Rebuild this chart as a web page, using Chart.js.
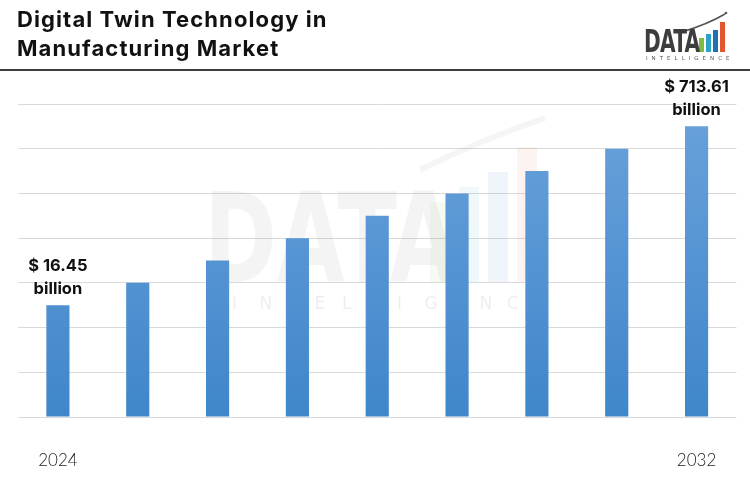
<!DOCTYPE html>
<html><head><meta charset="utf-8">
<script src="https://cdn.jsdelivr.net/npm/chart.js@4"></script>
<style>
html,body{margin:0;padding:0;background:#fff;}
#wrap{position:relative;width:750px;height:500px;overflow:hidden;background:#fff;}
#title{position:absolute;left:17px;top:5px;font-family:Inter,'Open Sans',sans-serif;font-weight:700;font-size:22px;line-height:29px;color:#111;letter-spacing:1.1px;}
#rule{position:absolute;left:0;top:69px;width:750px;height:2px;background:#3c3c3c;}
#chart{position:absolute;left:0;top:0;}
#logo{position:absolute;left:640px;top:8px;width:100px;height:60px;}
#logo .word{position:absolute;left:4px;top:17px;font-family:'DejaVu Sans Condensed','Liberation Sans Narrow',sans-serif;font-weight:700;font-size:32px;line-height:32px;color:#3d3d3d;transform:scaleX(0.7);transform-origin:left top;letter-spacing:-1px;}
#logo .bar{position:absolute;width:5px;}
#logo .sub{position:absolute;left:6px;top:47px;font-family:'DejaVu Sans',sans-serif;font-size:5.5px;letter-spacing:4px;color:#555;}
</style></head>
<body>
<div id="wrap">
  <canvas id="chart" width="750" height="500"></canvas>
  <div id="title">Digital Twin Technology in<br>Manufacturing Market</div>
  <div id="rule"></div>
  <div id="logo">
    <div class="bar" style="left:59px;top:30px;height:14px;background:#7dbb42;"></div>
    <div class="bar" style="left:66px;top:26px;height:18px;background:#2aa3c9;"></div>
    <div class="bar" style="left:73px;top:22px;height:22px;background:#1f6fb5;"></div>
    <div class="bar" style="left:80px;top:14px;height:30px;background:#e4572e;"></div>
    <svg style="position:absolute;left:40px;top:0;" width="50" height="30"><path d="M2 24 Q 28 16 45 6" stroke="#555" stroke-width="1.6" fill="none"/><circle cx="46" cy="5" r="1.3" fill="#555"/></svg>
    <div class="word">DATA</div>
    <div class="sub">INTELLIGENCE</div>
  </div>
</div>
<script>
const years = ['2024','2025','2026','2027','2028','2029','2030','2031','2032'];
const marketSize = [2.5, 3.0, 3.5, 4.0, 4.5, 5.0, 5.5, 6.0, 6.5];
const valueLabels = ['$ 16.45', null, null, null, null, null, null, null, '$ 713.61'];
const unitLabel = 'billion';
const shownYears = ['2024', '2032'];
const gridSteps = [0, 7, 1];

const watermark = {
  id: 'watermark',
  beforeDatasetsDraw(chart) {
    const ctx = chart.ctx;
    ctx.save();
    ctx.fillStyle = 'rgba(0,0,0,0.045)';
    ctx.font = 'bold 125px "DejaVu Sans Condensed", sans-serif';
    ctx.textBaseline = 'alphabetic';
    ctx.save();
    ctx.translate(204, 282);
    ctx.scale(0.78, 1);
    ctx.fillText('DATA', 0, 0);
    ctx.restore();
    const cols = ['rgba(125,187,66,0.07)','rgba(42,155,213,0.07)','rgba(31,111,181,0.07)','rgba(228,87,46,0.07)'];
    const hs = [80, 95, 110, 135];
    for (let i = 0; i < 4; i++) {
      ctx.fillStyle = cols[i];
      ctx.fillRect(430 + i * 29, 282 - hs[i], 20, hs[i]);
    }
    ctx.strokeStyle = 'rgba(0,0,0,0.04)';
    ctx.lineWidth = 6;
    ctx.beginPath();
    ctx.moveTo(420, 170);
    ctx.quadraticCurveTo(480, 140, 545, 118);
    ctx.stroke();
    ctx.fillStyle = 'rgba(0,0,0,0.07)';
    ctx.font = '17px "DejaVu Sans", sans-serif';
    ctx.textBaseline = 'middle';
    'INTELLIGENCE'.split('').forEach((c, i) => ctx.fillText(c, 232 + i * 27.5, 305));
    ctx.restore();
  }
};

const valueTags = {
  id: 'valueTags',
  afterDatasetsDraw(chart) {
    const ctx = chart.ctx;
    const meta = chart.getDatasetMeta(0);
    ctx.save();
    ctx.fillStyle = '#111';
    ctx.font = 'bold 16.5px Inter, "Open Sans", sans-serif';
    ctx.textAlign = 'center';
    ctx.textBaseline = 'middle';
    valueLabels.forEach((t, i) => {
      if (!t) return;
      const el = meta.data[i];
      ctx.fillText(t, el.x, el.y - 39);
      ctx.fillText(unitLabel, el.x, el.y - 16);
    });
    ctx.restore();
  }
};

new Chart(document.getElementById('chart'), {
  type: 'bar',
  data: {
    labels: years,
    datasets: [{
      data: marketSize,
      backgroundColor(c) {
        const ca = c.chart.chartArea;
        if (!ca) return '#5597d6';
        const g = c.chart.ctx.createLinearGradient(0, ca.top, 0, ca.bottom);
        g.addColorStop(0, '#6aa2da');
        g.addColorStop(1, '#3f86cb');
        return g;
      },
      borderWidth: 0,
      barPercentage: 0.29,
      categoryPercentage: 1.0
    }]
  },
  options: {
    responsive: false,
    animation: false,
    layout: { padding: { left: 18, right: 13, top: 104, bottom: 31 } },
    plugins: { legend: { display: false }, tooltip: { enabled: false } },
    scales: {
      x: {
        grid: { display: false, drawTicks: false },
        border: { display: false },
        afterFit(scale) { scale.height = 52; },
        ticks: {
          autoSkip: false, maxRotation: 0, padding: 33,
          color: '#222',
          font: { family: 'Lato', size: 17, weight: 300 },
          callback(v, i) { return shownYears.includes(years[i]) ? years[i] : ''; }
        }
      },
      y: {
        min: gridSteps[0], max: gridSteps[1],
        grid: { color: '#d9d9d9', lineWidth: 1, drawTicks: false },
        border: { display: false },
        ticks: { display: false, stepSize: gridSteps[2] }
      }
    }
  },
  plugins: [watermark, valueTags]
});
</script>
</body></html>
